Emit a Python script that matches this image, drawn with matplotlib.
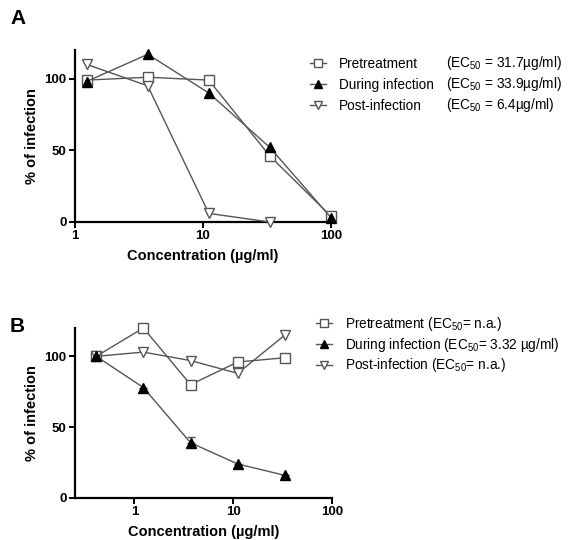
import numpy as np
import matplotlib
matplotlib.use('Agg')
import matplotlib.pyplot as plt

plt.rcParams['font.family'] = ['Liberation Sans', 'DejaVu Sans']
plt.rcParams['mathtext.fontset'] = 'custom'
plt.rcParams['mathtext.rm'] = 'Liberation Sans'
plt.rcParams['mathtext.it'] = 'Liberation Sans:italic'
plt.rcParams['mathtext.bf'] = 'Liberation Sans:bold'

# panel A
conc_a = [1.23, 3.7, 11.1, 33.3, 100]
pre_a = [99, 101, 99, 46, 4]
during_a = [98, 117, 90, 52, 3]
post_a = [110, 95, 6, 0]
ec_a = ['(EC$_{50}$ = 31.7µg/ml)', '(EC$_{50}$ = 33.9µg/ml)', '(EC$_{50}$ = 6.4µg/ml)']

# panel B
conc_b = [0.41, 1.23, 3.7, 11.1, 33.3]
pre_b = [100, 120, 80, 96, 99]
during_b = [100, 78, 39, 24, 16]
during_b_err = [0, 0, 4, 0, 0]
post_b = [100, 103, 97, 88, 115]

names = ['Pretreatment', 'During infection', 'Post-infection']
labels_b = ['Pretreatment (EC$_{50}$= n.a.)',
            'During infection (EC$_{50}$= 3.32 µg/ml)',
            'Post-infection (EC$_{50}$= n.a.)']

line_col = '#555555'
sq = dict(marker='s', ms=7, mfc='white', mec='#555555', mew=1.0, color=line_col, lw=1)
tri = dict(marker='^', ms=7, mfc='black', mec='black', color=line_col, lw=1)
itri = dict(marker='v', ms=7.5, mfc='white', mec='#555555', mew=1.0, color=line_col, lw=1)

W, H = 569, 540
fig = plt.figure(figsize=(W / 100, H / 100), dpi=100)
leg_fs = 9.8


def style_axes(ax, xmin, xmax):
    ax.set_xscale('log')
    ax.set_xlim(xmin, xmax)
    ax.set_ylim(0, 120)
    ax.set_yticks([0, 50, 100])
    ax.set_xticks([1, 10, 100])
    ax.set_xticklabels(['1', '10', '100'])
    ax.minorticks_off()
    for s in ['top', 'right']:
        ax.spines[s].set_visible(False)
    for s in ['left', 'bottom']:
        ax.spines[s].set_linewidth(1.6)
    ax.tick_params(width=1.4, length=4, labelsize=9.5, direction='out', pad=2)
    for t in ax.get_xticklabels() + ax.get_yticklabels():
        t.set_fontweight('bold')
    ax.set_xlabel('Concentration (µg/ml)', fontsize=10.5, fontweight='bold', labelpad=5)
    ax.set_ylabel('% of infection', fontsize=10.5, fontweight='bold', labelpad=4)


def add_legend(handles, labels, x, y, spacing):
    lg = fig.legend(handles, labels, loc='upper left',
                    bbox_to_anchor=(x / W, 1 - y / H), bbox_transform=fig.transFigure,
                    frameon=False, fontsize=leg_fs, handlelength=1.2, handletextpad=0.9,
                    labelspacing=spacing, borderpad=0, borderaxespad=0, markerscale=0.85)
    return lg


# ---- A
axA = fig.add_axes([75 / W, 1 - 222 / H, 256 / W, 172 / H])
h1, = axA.plot(conc_a, pre_a, **sq, clip_on=False, zorder=3)
h2, = axA.plot(conc_a, during_a, **tri, clip_on=False, zorder=4)
h3, = axA.plot(conc_a[:len(post_a)], post_a, **itri, clip_on=False, zorder=3)
style_axes(axA, 1, 100)
fig.text(10 / W, 1 - 18 / H, 'A', fontsize=15, fontweight='bold', va='center')

add_legend([h1, h2, h3], names, 310, 56.5, 0.53)
for i, s in enumerate(ec_a):
    fig.text(446 / W, 1 - (63 + 21 * i) / H, s, fontsize=leg_fs, va='center')

# ---- B
axB = fig.add_axes([75 / W, 1 - 498 / H, 257 / W, 170 / H])
g1, = axB.plot(conc_b, pre_b, **sq, clip_on=False, zorder=3)
axB.errorbar(conc_b, during_b, yerr=[np.zeros(len(during_b_err)), during_b_err],
             fmt='none', ecolor=line_col, elinewidth=1, capsize=3, zorder=2)
g2, = axB.plot(conc_b, during_b, **tri, clip_on=False, zorder=4)
g3, = axB.plot(conc_b, post_b, **itri, clip_on=False, zorder=3)
style_axes(axB, 0.25, 100)
fig.text(10 / W, 1 - 327 / H, 'B', fontsize=15, fontweight='bold', va='center')

add_legend([g1, g2, g3], labels_b, 316, 315, 0.2)

fig.savefig('out.png', dpi=100)
